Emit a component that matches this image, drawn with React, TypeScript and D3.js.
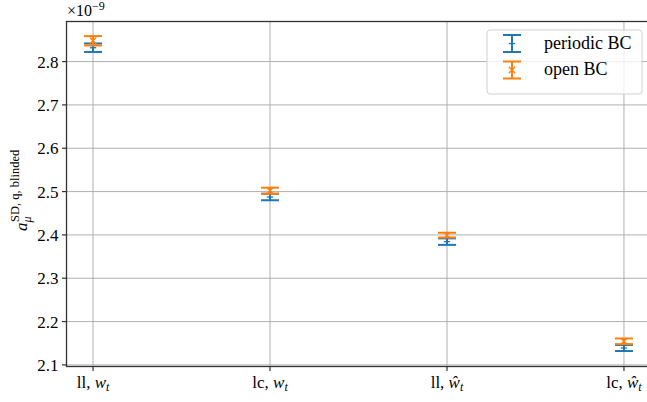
import React from "react";
import * as d3 from "d3";

// values (units of 1e-9)
const categories = ["ll, w_t", "lc, w_t", "ll, ŵ_t", "lc, ŵ_t"];
const periodicValues = [2.832, 2.4875, 2.3845, 2.139];
const periodicErrors = [0.0098, 0.0075, 0.0075, 0.007];
const openValues = [2.848, 2.502, 2.3995, 2.1545];
const openErrors = [0.0108, 0.007, 0.0055, 0.0065];
const yTicks = [2.1, 2.2, 2.3, 2.4, 2.5, 2.6, 2.7, 2.8];
const seriesNames = ["periodic BC", "open BC"];

const W = 647;
const H = 402;
const FONT = "'Liberation Serif', 'DejaVu Serif', serif";
const blue = "#1f77b4";
const orange = "#ff7f0e";

const left = 66.5;
const right = 650.5;
const top = 21.5;
const bottom = 366.5;
const cap = 9;

const series = [
  { name: seriesNames[0], values: periodicValues, errors: periodicErrors, color: blue, marker: "plus" },
  { name: seriesNames[1], values: openValues, errors: openErrors, color: orange, marker: "x" },
];

function Marker({ x, y, kind, color }: { x: number; y: number; kind: string; color: string }) {
  const s = 3.2;
  if (kind === "plus") {
    return (
      <g stroke={color} strokeWidth={1.3}>
        <line x1={x - s} x2={x + s} y1={y} y2={y} />
        <line x1={x} x2={x} y1={y - s} y2={y + s} />
      </g>
    );
  }
  return (
    <g stroke={color} strokeWidth={1.3}>
      <line x1={x - s} x2={x + s} y1={y - s} y2={y + s} />
      <line x1={x - s} x2={x + s} y1={y + s} y2={y - s} />
    </g>
  );
}

function ErrorBar({ x, y0, y1, ym, color, kind }: any) {
  return (
    <g>
      <line x1={x} x2={x} y1={y0} y2={y1} stroke={color} strokeWidth={2} />
      <line x1={x - cap} x2={x + cap} y1={y0} y2={y0} stroke={color} strokeWidth={2} />
      <line x1={x - cap} x2={x + cap} y1={y1} y2={y1} stroke={color} strokeWidth={2} />
      <Marker x={x} y={ym} kind={kind} color={color} />
    </g>
  );
}

function CatLabel({ label, x, y }: { label: string; x: number; y: number }) {
  const [head, sub] = label.split("_");
  const [prefix, sym] = head.split(", ");
  return (
    <text x={x} y={y} textAnchor="middle" fontFamily={FONT} fontSize={17}>
      <tspan>{prefix}, </tspan>
      <tspan fontStyle="italic">{sym}</tspan>
      <tspan fontStyle="italic" fontSize={12} dy={3}>{sub}</tspan>
    </text>
  );
}

export default function App() {
  const x = d3.scalePoint<string>().domain(categories).range([left, right]).padding(0.15);
  const y = d3.scaleLinear().domain([2.0963, 2.8925]).range([bottom, top]);

  return (
    <div>
      <style>{`body{margin:0}`}</style>
      <svg width={W} height={H} style={{ display: "block", background: "#fff" }}>
        {/* grid */}
        <g stroke="#b0b0b0" strokeWidth={1}>
          {yTicks.map((t) => (
            <line key={t} x1={left} x2={right} y1={y(t)} y2={y(t)} />
          ))}
          {categories.map((c) => (
            <line key={c} x1={x(c)} x2={x(c)} y1={top} y2={bottom} />
          ))}
        </g>

        {/* error bars */}
        {series.map((s) => (
          <g key={s.name}>
            {categories.map((c, i) => (
              <ErrorBar
                key={c}
                x={x(c)}
                y0={y(s.values[i] + s.errors[i])}
                y1={y(s.values[i] - s.errors[i])}
                ym={y(s.values[i])}
                color={s.color}
                kind={s.marker}
              />
            ))}
          </g>
        ))}

        {/* spines */}
        <rect x={left} y={top} width={right - left} height={bottom - top} fill="none" stroke="#333" strokeWidth={1.3} />

        {/* y axis */}
        <g fontFamily={FONT} fontSize={17}>
          {yTicks.map((t) => (
            <g key={t}>
              <line x1={left - 4.5} x2={left} y1={y(t)} y2={y(t)} stroke="#333" strokeWidth={1.2} />
              <text x={left - 8} y={y(t)} dy="0.36em" textAnchor="end">
                {d3.format(".1f")(t)}
              </text>
            </g>
          ))}
        </g>
        <text x={67} y={16} fontFamily={FONT} fontSize={16}>
          ×10<tspan fontSize={12} dy={-6}>−9</tspan>
        </text>

        {/* x axis */}
        {categories.map((c) => (
          <g key={c}>
            <line x1={x(c)} x2={x(c)} y1={bottom} y2={bottom + 4.5} stroke="#333" strokeWidth={1.2} />
            <CatLabel label={c} x={x(c)!} y={388} />
          </g>
        ))}

        {/* y label */}
        <g transform="translate(27,231) rotate(-90)" fontFamily={FONT}>
          <text x={0} y={0} fontSize={17} fontStyle="italic">a</text>
          <text x={9} y={-8} fontSize={12.5}>SD, q, blinded</text>
          <text x={8.5} y={4} fontSize={12} fontStyle="italic">μ</text>
        </g>

        {/* legend */}
        <rect x={487} y={30} width={155} height={64} rx={3} fill="#fff" fillOpacity={0.8} stroke="#d0d0d0" strokeWidth={1} />
        {series.map((s, i) => {
          const cy = 43.5 + i * 26.5;
          return (
            <g key={s.name}>
              <ErrorBar x={512} y0={cy - 8.5} y1={cy + 8.5} ym={cy} color={s.color} kind={s.marker} />
              <text x={544} y={cy + 5} fontFamily={FONT} fontSize={18}>
                {s.name}
              </text>
            </g>
          );
        })}
      </svg>
    </div>
  );
}
